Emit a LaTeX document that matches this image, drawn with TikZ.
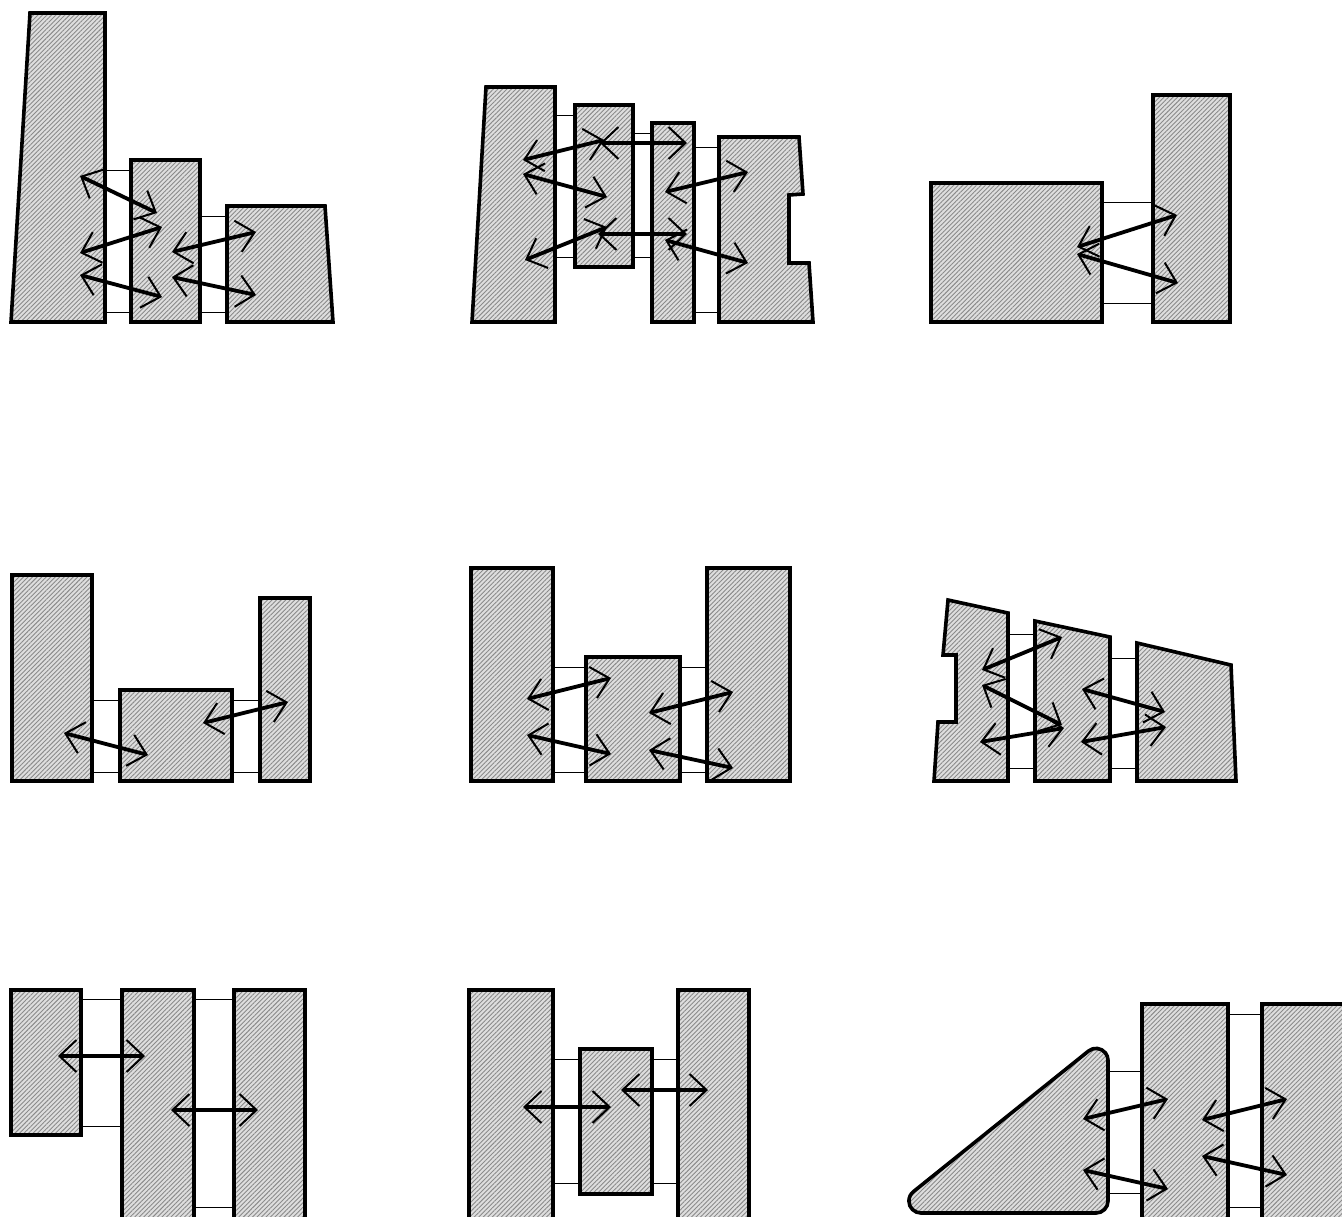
\documentclass[tikz,border=0pt]{standalone}
\usetikzlibrary{patterns.meta,arrows.meta}
\definecolor{blkfill}{HTML}{DEDEDE}
\definecolor{hatch}{HTML}{8A8A8A}
\tikzset{
  blk/.style={draw=black, line width=1.8pt, line join=miter,
    preaction={fill=blkfill},
    pattern={Lines[angle=45,distance=1.6pt,line width=0.45pt]}, pattern color=hatch},
  link/.style={draw=black, line width=0.5pt},
  barb/.tip={Straight Barb[length=8.5pt,width=16pt,line width=1pt]},
  arr/.style={draw=black, line width=1.9pt, barb-barb}
}
\begin{document}
\begin{tikzpicture}[x=0.5pt,y=-0.5pt]
\clip (0,0) rectangle (1342,1216);
\fill[white] (0,0) rectangle (1342,1216);

% ---------- Panel 1 ----------
\draw[link] (105,170)--(131,170) (105,312)--(131,312) (200,216)--(227,216) (200,312)--(227,312);
\draw[blk] (30,13)--(105,13)--(105,322)--(11,322)--cycle;
\draw[blk] (131,160) rectangle (200,322);
\draw[blk] (227,206)--(325,206)--(333,322)--(227,322)--cycle;
\draw[arr] (80,176)--(157,213);
\draw[arr] (80,253)--(162,227);
\draw[arr] (80,275)--(162,297);
\draw[arr] (172,252)--(256,232);
\draw[arr] (172,277)--(256,295);

% ---------- Panel 2 ----------
\draw[link] (555,115)--(575,115) (555,257)--(575,257) (633,133)--(652,133) (633,257)--(652,257) (694,147)--(719,147) (694,312)--(719,312);
\draw[blk] (486,87)--(555,87)--(555,322)--(472,322)--cycle;
\draw[blk] (575,105) rectangle (633,267);
\draw[blk] (652,123) rectangle (694,322);
\draw[blk] (719,137)--(799,137)--(803,194)--(789,195)--(789,263)--(809,263)--(813,322)--(719,322)--cycle;
\draw[arr] (523,160)--(604,140);
\draw[arr] (600,143)--(687,143);
\draw[arr] (523,174)--(607,197);
\draw[arr] (525,260)--(607,227);
\draw[arr] (598,234)--(687,234);
\draw[arr] (665,192)--(748,172);
\draw[arr] (665,240)--(748,263);

% ---------- Panel 3 ----------
\draw[link] (1102,202)--(1153,202) (1102,303)--(1153,303);
\draw[blk] (931,183) rectangle (1102,322);
\draw[blk] (1153,95) rectangle (1230,322);
\draw[arr] (1077,247)--(1177,215);
\draw[arr] (1077,254)--(1178,283);

% ---------- Panel 4 ----------
\draw[link] (92,700)--(120,700) (92,772)--(120,772) (232,700)--(260,700) (232,772)--(260,772);
\draw[blk] (12,575) rectangle (92,781);
\draw[blk] (120,690) rectangle (232,781);
\draw[blk] (260,598) rectangle (310,781);
\draw[arr] (64,733)--(148,755);
\draw[arr] (203,723)--(288,702);

% ---------- Panel 5 ----------
\draw[link] (553,667)--(586,667) (553,772)--(586,772) (680,667)--(707,667) (680,772)--(707,772);
\draw[blk] (471,568) rectangle (553,781);
\draw[blk] (586,657) rectangle (680,781);
\draw[blk] (707,568) rectangle (790,781);
\draw[arr] (527,699)--(611,678);
\draw[arr] (527,735)--(611,754);
\draw[arr] (649,713)--(733,692);
\draw[arr] (649,750)--(733,768);

% ---------- Panel 6 ----------
\draw[link] (1008,634)--(1035,634) (1008,768)--(1035,768) (1110,658)--(1137,658) (1110,768)--(1137,768);
\draw[blk] (948,600)--(1008,613)--(1008,781)--(934,781)--(938,722)--(956,722)--(956,655)--(943,655)--cycle;
\draw[blk] (1035,621)--(1110,637)--(1110,781)--(1035,781)--cycle;
\draw[blk] (1137,643)--(1231,665)--(1236,781)--(1137,781)--cycle;
\draw[arr] (982,670)--(1062,637);
\draw[arr] (982,685)--(1062,725);
\draw[arr] (980,742)--(1064,728);
\draw[arr] (1082,689)--(1165,712);
\draw[arr] (1081,742)--(1166,727);

% ---------- Panel 7 ----------
\draw[link] (81,999)--(122,999) (81,1126)--(122,1126) (194,999)--(234,999) (194,1207)--(234,1207);
\draw[blk] (11,990) rectangle (81,1135);
\draw[blk] (122,990) rectangle (194,1232);
\draw[blk] (234,990) rectangle (305,1232);
\draw[arr] (58,1056)--(145,1056);
\draw[arr] (171,1110)--(258,1110);

% ---------- Panel 8 ----------
\draw[link] (553,1059)--(580,1059) (553,1183)--(580,1183) (652,1059)--(678,1059) (652,1183)--(678,1183);
\draw[blk] (469,990) rectangle (553,1232);
\draw[blk] (580,1049) rectangle (652,1194);
\draw[blk] (678,990) rectangle (749,1232);
\draw[arr] (523,1107)--(611,1107);
\draw[arr] (621,1090)--(708,1090);

% ---------- Panel 9 ----------
\draw[link] (1108,1071)--(1142,1071) (1108,1193)--(1142,1193) (1228,1014)--(1262,1014) (1228,1207)--(1262,1207);
\draw[blk] (1108,1060.4) -- (1108,1201) arc[start angle=0,end angle=90,radius=12]
  -- (920.9,1213) arc[start angle=90,end angle=231.2,radius=12]
  -- (1088.5,1051.0) arc[start angle=231.2,end angle=360,radius=12] -- cycle;
\draw[blk] (1142,1004) rectangle (1228,1232);
\draw[blk] (1262,1004) rectangle (1362,1232);
\draw[arr] (1083,1119)--(1168,1099);
\draw[arr] (1083,1170)--(1168,1189);
\draw[arr] (1202,1120)--(1287,1099);
\draw[arr] (1202,1156)--(1287,1175);
\end{tikzpicture}
\end{document}
